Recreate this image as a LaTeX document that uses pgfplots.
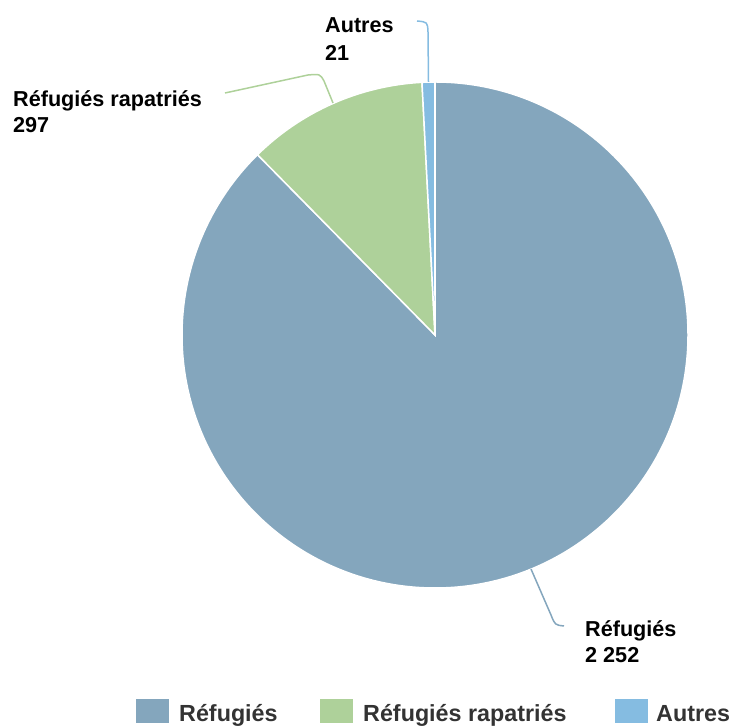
\documentclass[border=0pt]{standalone}
\usepackage{pgfplots}
\usepackage{pgfplotstable}
\pgfplotsset{compat=1.18}
\usepackage{fontspec}
\setmainfont{Liberation Sans}

\definecolor{cRef}{HTML}{84A6BD}
\definecolor{cRap}{HTML}{AED19A}
\definecolor{cAut}{HTML}{85BCE1}
\definecolor{legtxt}{HTML}{333333}

% population by category
\pgfplotstableread{
idx value
0 2252
1 297
2 21
}\piedata

\begin{document}%
\pgfplotstablegetelem{0}{value}\of\piedata \let\vA\pgfplotsretval%
\pgfplotstablegetelem{1}{value}\of\piedata \let\vB\pgfplotsretval%
\pgfplotstablegetelem{2}{value}\of\piedata \let\vC\pgfplotsretval%
\pgfmathsetmacro\tot{\vA+\vB+\vC}%
\pgfmathsetmacro\aA{90}%
\pgfmathsetmacro\aB{\aA-360*(\vA/\tot)}%
\pgfmathsetmacro\aC{\aB-360*(\vB/\tot)}%
\pgfmathsetmacro\aD{\aC-360*(\vC/\tot)}%
\begin{tikzpicture}[
    lab/.style={anchor=base west, inner sep=0pt,
      font=\fontsize{21.7}{26}\selectfont\bfseries},
    leg/.style={anchor=base west, inner sep=0pt, text=legtxt,
      font=\fontsize{23.4}{27}\selectfont\bfseries}]
\begin{axis}[
    hide axis, scale only axis,
    width=734bp, height=727bp,
    xmin=0, xmax=734, ymin=0, ymax=727,
    clip=false]
  \coordinate (bl) at (axis cs:0,0);
  \coordinate (tr) at (axis cs:734,727);
  % slices
  \fill[cRef, draw=white, line width=1.5bp] (axis cs:435,392) -- ++(\aA:253bp)
    arc[start angle=\aA, end angle=\aB, radius=253bp] -- cycle;
  \fill[cRap, draw=white, line width=1.5bp] (axis cs:435,392) -- ++(\aB:253bp)
    arc[start angle=\aB, end angle=\aC, radius=253bp] -- cycle;
  \fill[cAut, draw=white, line width=1.5bp] (axis cs:435,392) -- ++(\aC:253bp)
    arc[start angle=\aC, end angle=\aD, radius=253bp] -- cycle;
  % connectors
  \draw[cAut, line width=1.5bp] (axis cs:428.5,645) -- (axis cs:428,695)
    .. controls (axis cs:427.5,705) .. (axis cs:417,706);
  \draw[cRap, line width=1.5bp] (axis cs:333,624) -- (axis cs:324,646)
    .. controls (axis cs:320,653) .. (axis cs:308,652) -- (axis cs:225,634);
  \draw[cRef, line width=1.5bp] (axis cs:531,158) -- (axis cs:551,112)
    .. controls (axis cs:555,102) .. (axis cs:564,101);
  % data labels
  \node[lab] at (axis cs:325,694) {Autres};
  \node[lab] at (axis cs:325,666) {21};
  \node[lab] at (axis cs:13,620) {Réfugiés rapatriés};
  \node[lab] at (axis cs:13,594) {297};
  \node[lab] at (axis cs:585,90) {Réfugiés};
  \node[lab] at (axis cs:585,64) {2 252};
  % legend
  \fill[cRef] (axis cs:136,4) rectangle (axis cs:169,28);
  \node[leg] at (axis cs:179,5) {Réfugiés};
  \fill[cRap] (axis cs:320,4) rectangle (axis cs:353,28);
  \node[leg] at (axis cs:363,5) {Réfugiés rapatriés};
  \fill[cAut] (axis cs:615,4) rectangle (axis cs:648,28);
  \node[leg] at (axis cs:656,5) {Autres};
\end{axis}
\pgfresetboundingbox
\useasboundingbox (bl) rectangle (tr);
\end{tikzpicture}%
\end{document}
